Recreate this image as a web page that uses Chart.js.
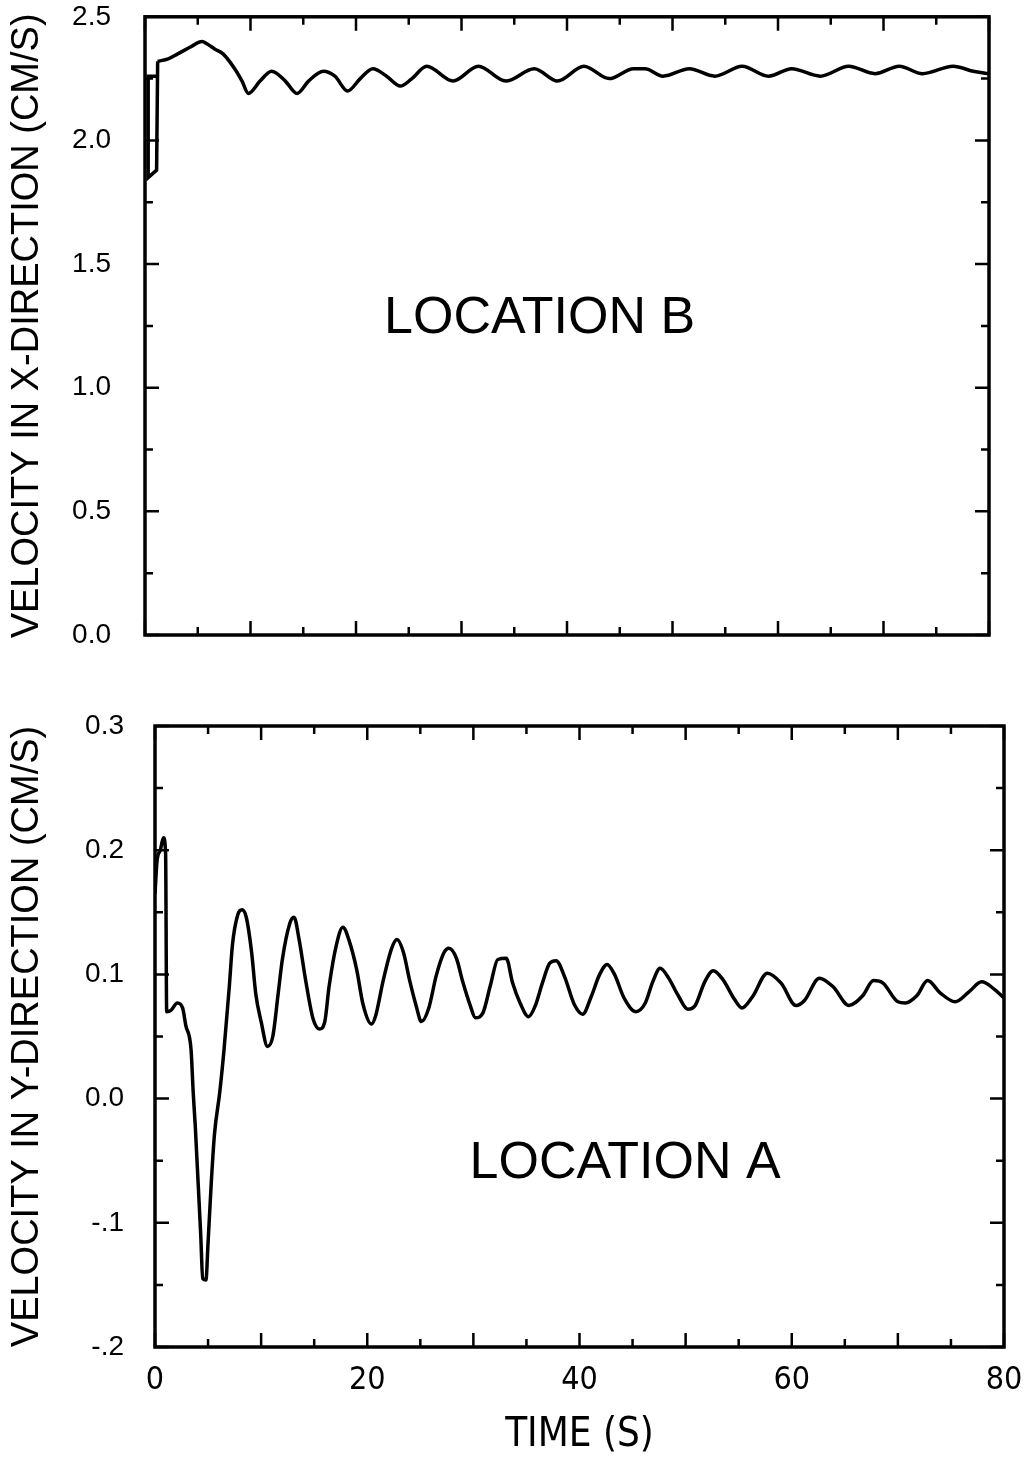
<!DOCTYPE html>
<html>
<head>
<meta charset="utf-8">
<script src="https://cdn.jsdelivr.net/npm/chart.js@4.4.1/dist/chart.umd.min.js"></script>
<style>
  body { margin: 0; background: #fff; }
  canvas { position: absolute; left: 0; }
  #topChart { top: 0; }
  #bottomChart { top: 700px; }
</style>
</head>
<body>
<canvas id="topChart" width="1035" height="700"></canvas>
<canvas id="bottomChart" width="1035" height="763"></canvas>
<script>
// location B, x-velocity: the little jump at the very start, then the main trace
const startTimeB = [1.1, 0.3, 0.3, 1.1, 1.2];
const startVelB = [2.26, 2.26, 1.85, 1.88, 2.32];
const timeB = [1.2, 2.2, 3.1, 4.4, 5.4, 5.9, 6.6, 7.4, 8.5, 9.2,
  9.8, 10.9, 12.0, 13.3, 14.4, 15.5, 16.9, 18.0, 19.2, 20.4,
  21.6, 22.9, 24.2, 25.3, 26.7, 29.2, 31.6, 34.2, 36.9, 39.1,
  41.6, 44.0, 46.3, 47.4, 49.1, 51.6, 54.0, 56.6, 59.1, 61.3,
  64.0, 66.7, 69.2, 71.5, 73.7, 76.6, 78.5, 80];
const velB = [2.32, 2.33, 2.35, 2.38, 2.40, 2.39, 2.37, 2.35, 2.29, 2.24,
  2.19, 2.24, 2.28, 2.24, 2.19, 2.24, 2.28, 2.26, 2.20, 2.25,
  2.29, 2.26, 2.22, 2.25, 2.30, 2.24, 2.30, 2.24, 2.29, 2.24,
  2.30, 2.25, 2.29, 2.29, 2.26, 2.29, 2.26, 2.30, 2.26, 2.29,
  2.26, 2.30, 2.27, 2.30, 2.27, 2.30, 2.28, 2.27];

// location A, y-velocity
const timeA = [0, 0.2, 0.5, 0.8, 1.0, 1.1, 1.5, 2.1, 2.6, 2.9,
  3.4, 3.6, 3.8, 4.0, 4.3, 4.5, 4.8, 5.0, 5.3, 5.6,
  6.1, 6.5, 7.0, 7.3, 7.8, 8.2, 8.6, 9.1, 9.5, 10.0,
  10.6, 11.1, 11.6, 12.0, 12.7, 13.1, 13.6, 14.2, 14.9, 15.5,
  16.0, 16.4, 17.1, 17.7, 18.3, 19.0, 19.6, 20.4, 20.8, 21.5,
  22.3, 22.8, 23.4, 24.0, 24.6,
  25.1, 25.8, 26.5, 27.2, 27.7, 28.4, 29.0, 29.7, 30.2, 30.9,
  31.6, 32.3, 33.1, 33.7, 34.4, 35.2, 35.8, 36.5, 37.2, 37.8,
  38.6, 39.5, 40.3, 41.1, 41.9, 42.6, 43.3, 44.2, 45.3, 46.2,
  46.9, 47.6, 48.4, 49.3, 50.2, 50.9, 51.8, 52.6, 53.5, 54.6,
  55.3, 56.3, 57.7, 59.0, 60.4, 61.2, 62.6, 63.9, 65.4, 66.7,
  67.7, 68.6, 70.0, 70.7, 71.8, 72.8, 74.0, 75.4, 76.7, 77.9,
  79.1, 80.0];
const velA = [0.165, 0.192, 0.200, 0.210, 0.197, 0.070, 0.071, 0.077, 0.073, 0.059,
  0.039, 0.005, -0.023, -0.057, -0.108, -0.145, -0.146, -0.116, -0.068, -0.029,
  0.005, 0.039, 0.090, 0.124, 0.148, 0.152, 0.146, 0.118, 0.084, 0.062,
  0.042, 0.050, 0.084, 0.112, 0.141, 0.146, 0.127, 0.095, 0.064, 0.056,
  0.062, 0.090, 0.124, 0.138, 0.127, 0.104, 0.076, 0.060, 0.067, 0.095,
  0.121, 0.128, 0.118, 0.095, 0.075,
  0.062, 0.073, 0.099, 0.117, 0.121, 0.113, 0.094, 0.075, 0.065, 0.069,
  0.091, 0.112, 0.113, 0.093, 0.077, 0.066, 0.074, 0.093, 0.109, 0.111,
  0.098, 0.076, 0.068, 0.082, 0.100, 0.108, 0.100, 0.081, 0.070, 0.077,
  0.094, 0.105, 0.097, 0.083, 0.072, 0.075, 0.094, 0.103, 0.096, 0.080,
  0.073, 0.082, 0.101, 0.093, 0.075, 0.079, 0.097, 0.090, 0.075, 0.083,
  0.095, 0.093, 0.078, 0.077, 0.083, 0.095, 0.085, 0.078, 0.086, 0.094,
  0.088, 0.081];

const xTickLabels = ['0', '20', '40', '60', '80'];
const yTickLabelsB = ['0.0', '0.5', '1.0', '1.5', '2.0', '2.5'];
const yTickLabelsA = ['-.2', '-.1', '0.0', '0.1', '0.2', '0.3'];

const toPoints = (xs, ys) => xs.map((t, i) => ({ x: t, y: ys[i] }));

const SANS = '"Liberation Sans", Arial, sans-serif';
const NARROW = '"Liberation Sans Narrow", "DejaVu Sans Condensed", "Liberation Sans", sans-serif';

Chart.defaults.color = '#000';
Chart.defaults.font.family = SANS;

// frame with inward ticks on all four sides, plus the location caption
const frameTicks = {
  id: 'frameTicks',
  afterDatasetsDraw(chart, args, opts) {
    const { ctx, chartArea: a } = chart;
    const x = chart.scales.x, y = chart.scales.y;
    ctx.save();
    ctx.strokeStyle = '#000';
    ctx.lineWidth = 2.5;
    ctx.beginPath();
    const nx = Math.round((x.max - x.min) / opts.xStep);
    for (let i = 0; i <= nx; i++) {
      const px = x.getPixelForValue(x.min + i * opts.xStep);
      const len = i % 2 === 0 ? 14 : 8;
      ctx.moveTo(px, a.bottom); ctx.lineTo(px, a.bottom - len);
      ctx.moveTo(px, a.top); ctx.lineTo(px, a.top + len);
    }
    const ny = Math.round((y.max - y.min) / opts.yStep);
    for (let i = 0; i <= ny; i++) {
      const py = y.getPixelForValue(y.min + i * opts.yStep);
      const len = i % 2 === 0 ? 14 : 8;
      ctx.moveTo(a.left, py); ctx.lineTo(a.left + len, py);
      ctx.moveTo(a.right, py); ctx.lineTo(a.right - len, py);
    }
    ctx.stroke();
    ctx.lineWidth = 3.5;
    ctx.strokeRect(a.left, a.top, a.right - a.left, a.bottom - a.top);

    ctx.fillStyle = '#000';
    ctx.font = '52px ' + SANS;
    ctx.textAlign = 'center';
    ctx.textBaseline = 'middle';
    ctx.fillText(opts.caption, x.getPixelForValue(opts.captionAt[0]), y.getPixelForValue(opts.captionAt[1]));
    ctx.restore();
  }
};

const lineStyle = {
  borderColor: '#000',
  borderWidth: 3.5,
  pointRadius: 0,
  fill: false
};

// invisible tick marks give the label gap without padding the chart area vertically
const hiddenGrid = (len) => ({
  color: 'rgba(0,0,0,0)',
  drawOnChartArea: false,
  drawTicks: true,
  tickLength: len
});

new Chart(document.getElementById('topChart'), {
  type: 'line',
  data: {
    datasets: [
      Object.assign({ data: toPoints(startTimeB, startVelB), tension: 0 }, lineStyle),
      Object.assign({ data: toPoints(timeB, velB), cubicInterpolationMode: 'monotone' }, lineStyle)
    ]
  },
  options: {
    responsive: false,
    animation: false,
    layout: { padding: { left: 0, right: 46, top: 15, bottom: 0 } },
    plugins: {
      legend: { display: false },
      tooltip: { enabled: false },
      frameTicks: { xStep: 5, yStep: 0.25, caption: 'LOCATION B', captionAt: [37.4, 1.28] }
    },
    scales: {
      x: {
        type: 'linear', min: 0, max: 80,
        grid: { display: false }, border: { display: false },
        ticks: { display: false },
        afterFit: s => { s.height = 65; }
      },
      y: {
        min: 0, max: 2.5,
        grid: hiddenGrid(34), border: { display: false },
        ticks: {
          stepSize: 0.5, padding: 0,
          font: { size: 28 },
          callback: (v, i) => yTickLabelsB[i]
        },
        title: {
          display: true, text: 'VELOCITY IN X-DIRECTION (CM/S)',
          font: { size: 38 }, padding: { top: 5, bottom: 0 }
        },
        afterFit: s => { s.width = 145; }
      }
    }
  },
  plugins: [frameTicks]
});

new Chart(document.getElementById('bottomChart'), {
  type: 'line',
  data: {
    datasets: [
      Object.assign({ data: toPoints(timeA, velA), cubicInterpolationMode: 'monotone' }, lineStyle)
    ]
  },
  options: {
    responsive: false,
    animation: false,
    layout: { padding: { left: 0, right: 31, top: 26, bottom: 0 } },
    plugins: {
      legend: { display: false },
      tooltip: { enabled: false },
      frameTicks: { xStep: 5, yStep: 0.05, caption: 'LOCATION A', captionAt: [44.3, -0.052] }
    },
    scales: {
      x: {
        type: 'linear', min: 0, max: 80,
        grid: hiddenGrid(14), border: { display: false },
        ticks: {
          stepSize: 20, padding: 0, maxRotation: 0,
          font: { family: NARROW, size: 32 },
          callback: (v, i) => xTickLabels[i]
        },
        title: {
          display: true, text: 'TIME (S)',
          font: { family: NARROW, size: 40 }, padding: { top: 0, bottom: 3 }
        },
        afterFit: s => { s.height = 116; }
      },
      y: {
        min: -0.2, max: 0.3,
        grid: hiddenGrid(31), border: { display: false },
        ticks: {
          stepSize: 0.1, padding: 0,
          font: { size: 28 },
          callback: (v, i) => yTickLabelsA[i]
        },
        title: {
          display: true, text: 'VELOCITY IN Y-DIRECTION (CM/S)',
          font: { size: 38 }, padding: { top: 5, bottom: 0 }
        },
        afterFit: s => { s.width = 155; }
      }
    }
  },
  plugins: [frameTicks]
});
</script>
</body>
</html>
